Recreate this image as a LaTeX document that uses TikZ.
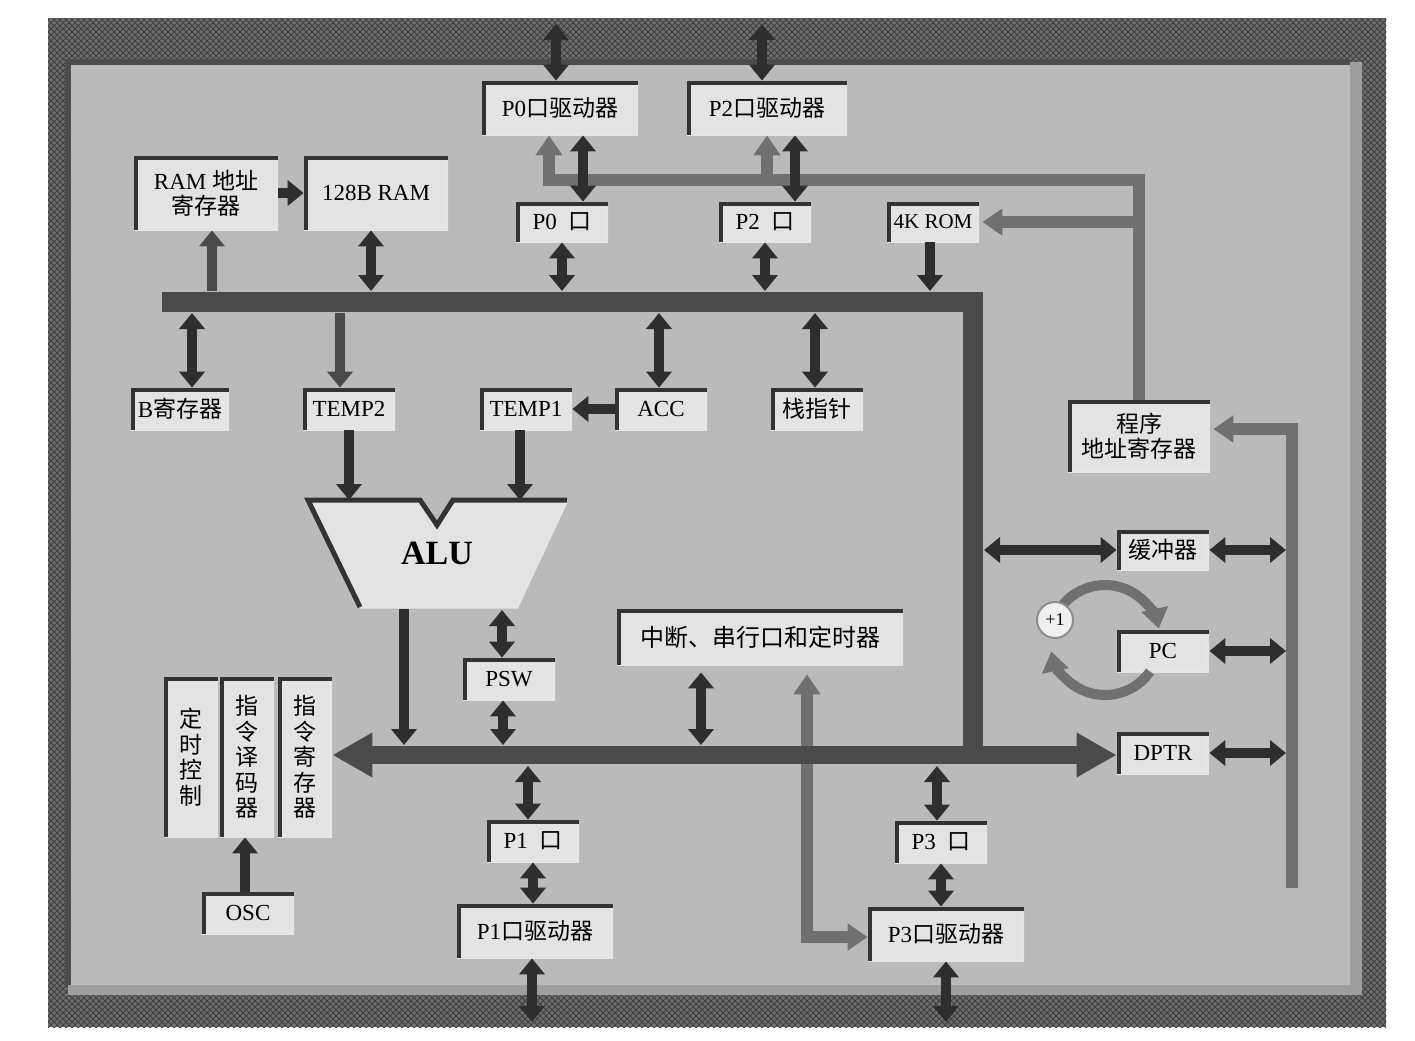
\documentclass[tikz,border=0pt]{standalone}
\usepackage{fontspec}
\setmainfont{Liberation Serif}
\newfontfamily\cjk{Noto Sans CJK SC}
\usetikzlibrary{arrows.meta,calc,patterns}

\definecolor{framegray}{HTML}{6E6E6E}
\definecolor{panelgray}{HTML}{BABABA}
\definecolor{boxgray}{HTML}{E3E3E3}
\definecolor{busgray}{HTML}{4A4A4A}
\definecolor{darkarr}{HTML}{2E2E2E}
\definecolor{midarr}{HTML}{707070}

\tikzset{
  reg/.style={fill=boxgray, inner sep=0pt, minimum width=46pt, minimum height=21pt,
    font=\fontsize{11.5}{12.5}\selectfont, align=center,
    path picture={
      \draw[white!80!gray,line width=3pt] (path picture bounding box.south west) -- (path picture bounding box.south east) -- (path picture bounding box.north east);
      \draw[black!80,line width=4pt] (path picture bounding box.south west) -- (path picture bounding box.north west) -- (path picture bounding box.north east);}},
  drv/.style={reg, minimum width=78pt, minimum height=27pt},
  vbox/.style={reg, minimum width=27pt, minimum height=80pt, font=\fontsize{11.5}{12.8}\selectfont\cjk},
  busbar/.style={draw=busgray, line width=10pt},
  bigbus/.style={draw=busgray, line width=9pt, >={Triangle[length=20pt,width=21pt]}, <->},
  dbl/.style={draw=darkarr, line width=5pt, >={Triangle[length=8pt,width=12.5pt]}, <->},
  sgl/.style={draw=darkarr, line width=5pt, >={Triangle[length=8pt,width=12.5pt]}, ->},
  gry/.style={draw=midarr, line width=6pt, >={Triangle[length=10pt,width=13pt]}, ->},
  grydbl/.style={gry, <->}
}

\begin{document}
\begin{tikzpicture}[x=0.5pt,y=-0.5pt]
  \useasboundingbox (0,0) rectangle (1415,1040);
  \fill[white] (0,0) rectangle (1415,1040);

  % frame and board
  \fill[framegray] (48,18) rectangle (1386,1027);
  \fill[pattern=crosshatch, pattern color=black!75] (48,18) rectangle (1386,1027);
  \fill[black!38] (68,62) rectangle (1362,995);
  \fill[panelgray] (68,62) rectangle (1350,985);
  \draw[black!70,line width=3pt] (68,985) -- (68,62) -- (1350,62);

  % blocks
  \node[drv] (p0drv) at (560,108) {P0{\cjk 口驱动器}};
  \node[drv, minimum width=80pt] (p2drv) at (767,108) {P2{\cjk 口驱动器}};
  \node[reg, minimum width=72pt, minimum height=37pt] (ramaddr) at (206,193) {RAM {\cjk 地址}\\{\cjk 寄存器}};
  \node[reg, minimum width=72pt, minimum height=37pt] (ram) at (376,193) {128B RAM};
  \node[reg, minimum height=20pt] (p0) at (562,222) {P0\ \ {\cjk 口}};
  \node[reg, minimum height=20pt] (p2) at (765,222) {P2\ \ {\cjk 口}};
  \node[reg, minimum height=20pt, font=\fontsize{10.5}{12}\selectfont] (rom) at (933,222) {4K ROM};
  \node[reg, minimum width=49pt] (breg) at (180,409) {B{\cjk 寄存器}};
  \node[reg] (temp2) at (349,409) {TEMP2};
  \node[reg] (temp1) at (526,409) {TEMP1};
  \node[reg] (acc) at (661,409) {ACC};
  \node[reg] (sp) at (817,409) {\cjk 栈指针};
  \node[reg] (psw) at (509,679) {PSW};
  \node[reg, minimum width=143pt, minimum height=28pt, font=\fontsize{12}{13}\selectfont] (irq) at (760,637) {\cjk 中断、串行口和定时器};
  \node[vbox] (timing) at (191,757) {定\\时\\控\\制};
  \node[vbox] (decoder) at (247,757) {指\\令\\译\\码\\器};
  \node[vbox] (ir) at (305,757) {指\\令\\寄\\存\\器};
  \node[reg] (osc) at (248,913) {OSC};
  \node[reg] (p1) at (533,841) {P1\ \ {\cjk 口}};
  \node[drv] (p1drv) at (535,931) {P1{\cjk 口驱动器}};
  \node[reg] (p3) at (941,842) {P3\ \ {\cjk 口}};
  \node[drv] (p3drv) at (946,934) {P3{\cjk 口驱动器}};
  \node[reg, minimum width=71pt, minimum height=36pt, font=\fontsize{11.5}{12.5}\selectfont\cjk] (pa) at (1139,436) {程序\\地址寄存器};
  \node[reg, minimum height=20pt] (buf) at (1163,550) {\cjk 缓冲器};
  \node[reg] (pc) at (1163,651) {PC};
  \node[reg] (dptr) at (1163,753) {DPTR};

  % ALU
  \coordinate (aluA) at (308,500);
  \coordinate (aluB) at (567,500);
  \coordinate (aluC) at (360,607);
  \coordinate (aluD) at (517,607);
  \fill[boxgray] (aluA) -- (420,500) -- (437,525) -- (453,500) -- (aluB) -- (aluD) -- (aluC) -- cycle;
  \draw[white!80!gray,line width=1.5pt] (aluB) -- (aluD) -- (aluC);
  \draw[black!80,line width=2.5pt] (aluC) -- (aluA) -- (420,500) -- (437,525) -- (453,500) -- (aluB);
  \node[font=\fontsize{17}{20}\selectfont\bfseries] (alu) at (437,553) {ALU};
  \coordinate (aluout) at (404,609);

  % bus points
  \coordinate (ubl) at (162,302);
  \coordinate (ubr) at (973,302);
  \coordinate (ubt) at (0,291);
  \coordinate (ubb) at (0,313);
  \coordinate (lbus) at (0,755);
  \coordinate (lbt) at (0,745);
  \coordinate (lbb) at (0,766);
  \coordinate (vbus) at (984,0);
  \coordinate (gbus) at (0,180);
  \coordinate (rline) at (1292,888);
  \coordinate (rlineL) at (1286,0);
  \coordinate (outtop) at (0,24);
  \coordinate (outbot) at (0,1022);

  % address lines (gray)
  \draw[gry] (pa.north) |- ($(gbus -| p0drv.south)+(-11,0)$) -- ($(p0drv.south)+(-11,0)$);
  \draw[gry] (gbus -| p2drv.south) -- (p2drv.south);
  \draw[gry] (pa.north |- rom.east) -- ($(rom.east)+(3,0)$);
  \draw[gry] (rline) |- ($(pa.east)+(3,-7)$);
  \draw[grydbl] ($(irq.south)+(47,9)$) |- ($(p3drv.west)+(0,3)$);

  % buses
  \draw[busgray,line width=10pt] (ubl) -- (ubr) -- (ubr |- lbus);
  \draw[bigbus] (ir.east |- lbus) -- (dptr.west |- lbus);

  % port arrows
  \draw[dbl] ($(p0drv.north |- outtop)+(-4,0)$) -- ($(p0drv.north)+(-4,0)$);
  \draw[dbl] ($(p2drv.north |- outtop)+(-5,0)$) -- ($(p2drv.north)+(-5,0)$);
  \draw[dbl] ($(p0.north)+(21,0)$) -- ($(p0.north |- p0drv.south)+(21,0)$);
  \draw[dbl] ($(p2.north)+(30,0)$) -- ($(p2.north |- p2drv.south)+(30,0)$);
  \draw[dbl] (p0.south) -- (p0.south |- ubt);
  \draw[dbl] (p2.south) -- (p2.south |- ubt);
  \draw[sgl] ($(rom.south)+(-3,0)$) -- ($(rom.south |- ubt)+(-3,0)$);
  \draw[sgl] (ramaddr.east) -- (ram.west);
  \draw[sgl,draw=busgray] ($(ramaddr.south |- ubt)+(6,0)$) -- ($(ramaddr.south)+(6,0)$);
  \draw[dbl] ($(ram.south)+(-5,0)$) -- ($(ram.south |- ubt)+(-5,0)$);

  % registers under the bus
  \draw[dbl] ($(breg.north |- ubb)+(12,0)$) -- ($(breg.north)+(12,0)$);
  \draw[sgl,draw=busgray] ($(temp2.north |- ubb)+(-9,0)$) -- ($(temp2.north)+(-9,0)$);
  \draw[dbl] ($(acc.north |- ubb)+(-2,0)$) -- ($(acc.north)+(-2,0)$);
  \draw[dbl] ($(sp.north |- ubb)+(-2,0)$) -- ($(sp.north)+(-2,0)$);
  \draw[sgl] (acc.west) -- (temp1.east);
  \draw[sgl] (temp2.south) -- (temp2.south |- aluA);
  \draw[sgl] ($(temp1.south)+(-6,0)$) -- ($(temp1.south |- aluB)+(-6,0)$);

  % ALU, PSW and lower bus
  \draw[sgl] (aluout) -- (aluout |- lbt);
  \draw[dbl] ($(psw.north |- aluD)+(-7,3)$) -- ($(psw.north)+(-7,0)$);
  \draw[dbl] ($(psw.south)+(-6,0)$) -- ($(psw.south |- lbt)+(-6,0)$);
  \draw[dbl] ($(irq.south)+(-59,7)$) -- ($(irq.south |- lbt)+(-59,0)$);
  \draw[dbl] ($(p1.north |- lbb)+(-5,0)$) -- ($(p1.north)+(-5,0)$);
  \draw[dbl] (p1.south) -- (p1.south |- p1drv.north);
  \draw[dbl] ($(p1drv.south)+(-3,0)$) -- ($(p1drv.south |- outbot)+(-3,0)$);
  \draw[dbl] ($(p3.north |- lbb)+(-4,0)$) -- ($(p3.north)+(-4,0)$);
  \draw[dbl] (p3.south) -- (p3.south |- p3drv.north);
  \draw[dbl] (p3drv.south) -- (p3drv.south |- outbot);
  \draw[sgl] ($(osc.north)+(-3,0)$) -- ($(osc.north |- decoder.south)+(-3,0)$);

  % program counter side
  \draw[dbl] (buf.west -| vbus) -- (buf.west);
  \draw[dbl] (buf.east) -- (buf.east -| rlineL);
  \draw[dbl] (pc.east) -- (pc.east -| rlineL);
  \draw[dbl] (dptr.east) -- (dptr.east -| rlineL);
  \coordinate (loopc) at (1105,640);
  \draw[gry,line width=5pt] ($(loopc)+(-140:55)$) arc[start angle=-140, end angle=-12, radius=55];
  \draw[gry,line width=5pt] ($(loopc)+(35:55)$) arc[start angle=35, end angle=168, radius=55];
  \node[circle, fill=white!88!gray, draw=black!45, line width=1pt, minimum size=18pt, inner sep=0pt,
    font=\fontsize{9}{10}\selectfont] (inc) at (1055,620) {+1};
\end{tikzpicture}
\end{document}
